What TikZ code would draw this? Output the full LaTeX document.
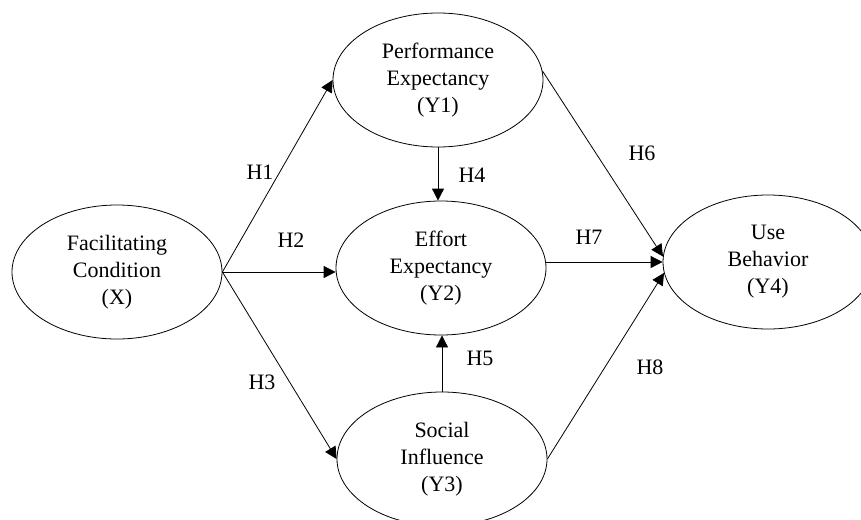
\documentclass[tikz,border=0pt]{standalone}
\usepackage{fontspec}
\setmainfont{Liberation Serif}
\usetikzlibrary{shapes.geometric}
\usetikzlibrary{arrows.meta}

\begin{document}
\begin{tikzpicture}
  [x=1pt,y=-1pt,
  var/.style={ellipse,draw=black,line width=0.8pt,minimum width=210pt,minimum height=134pt,inner sep=0pt,align=center,font=\fontsize{22}{27}\selectfont},
  hyp/.style={font=\fontsize{22}{27}\selectfont,inner sep=0pt},
  path/.style={draw=black,line width=0.8pt,-{Triangle[length=12pt,width=12pt]}}]
  \useasboundingbox (0,0) rectangle (861,519);

  \node[var] (X) at (117,272) {Facilitating\\Condition\\(X)};
  \node[var] (Y1) at (438,80) {Performance\\Expectancy\\(Y1)};
  \node[var] (Y2) at (441,268) {Effort\\Expectancy\\(Y2)};
  \node[var] (Y3) at (442,459) {Social\\Influence\\(Y3)};
  \node[var] (Y4) at (768,262) {Use\\Behavior\\(Y4)};

  \draw[path] (X.east) -- (Y1.west);
  \draw[path] (X.east) -- (X.east -| Y2.west);
  \draw[path] (X.east) -- (Y3.west);
  \draw[path] (Y1.south) -- (Y1.south |- Y2.north);
  \draw[path] (Y3.north) -- (Y3.north |- Y2.south);
  \draw[path] (Y1.5) -- (Y4.177);
  \draw[path] (Y2.east |- Y4) -- (Y4.west);
  \draw[path] (Y3.east) -- (Y4.186);

  \node[hyp] (h1) at (260,172) {H1};
  \node[hyp] (h2) at (291,240) {H2};
  \node[hyp] (h3) at (262,382) {H3};
  \node[hyp] (h4) at (472,175) {H4};
  \node[hyp] (h5) at (480,358) {H5};
  \node[hyp] (h6) at (642,153) {H6};
  \node[hyp] (h7) at (589,237) {H7};
  \node[hyp] (h8) at (650,367) {H8};
\end{tikzpicture}
\end{document}
